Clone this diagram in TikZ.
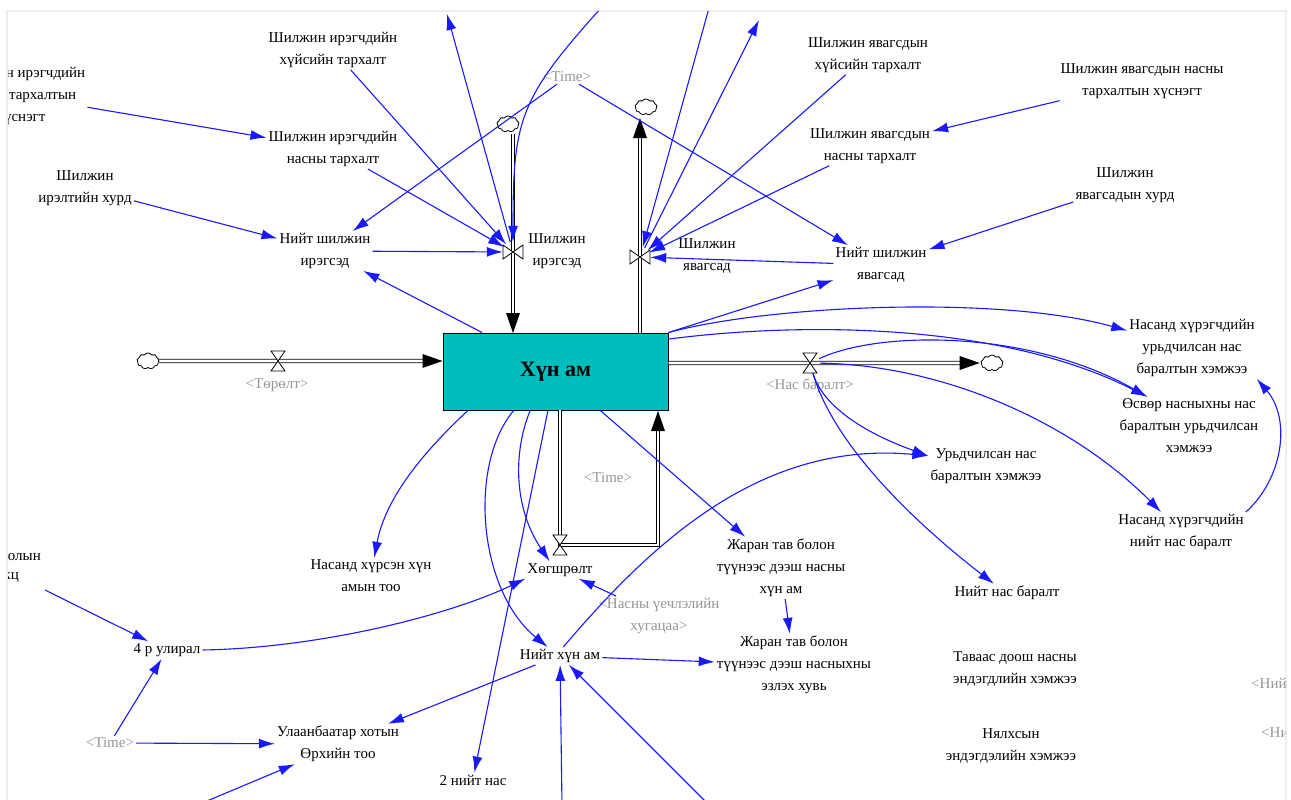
\documentclass[tikz,border=0pt]{standalone}
\usepackage{fontspec}
\setmainfont{Liberation Serif}
\usetikzlibrary{arrows.meta,shapes.symbols,calc}
\definecolor{linkblue}{RGB}{25,25,255}
\definecolor{stockteal}{RGB}{0,190,190}
\definecolor{shadowgray}{RGB}{150,150,150}
\definecolor{framegray}{RGB}{238,238,238}
\tikzset{
  var/.style={align=center, font=\fontsize{15}{22}\selectfont, inner sep=2pt},
  shadowvar/.style={var, text=shadowgray},
  link/.style={draw=linkblue, line width=1.1pt, -{Latex[length=16pt,width=10pt]}},
  pipe/.style={draw=black, double=white, double distance=2.6pt, line width=0.9pt},
  valvept/.style={circle, minimum size=20pt, inner sep=0pt},
  sink/.style={cloud, cloud puffs=9, cloud puff arc=110, aspect=1.3, draw=black,
    fill=white, line width=0.8pt, minimum width=22pt, minimum height=16pt, inner sep=0pt},
  stockbox/.style={draw=black, line width=1pt, fill=stockteal, minimum width=225pt,
    minimum height=77pt, font=\fontsize{22}{26}\selectfont\bfseries},
  hvalve/.pic={\draw[fill=white, line width=0.8pt] (-7,-10) -- (7,-10) -- (0,0) -- cycle
     (-7,10) -- (7,10) -- (0,0) -- cycle;},
  vvalve/.pic={\draw[fill=white, line width=0.8pt] (-10,-7) -- (-10,7) -- (0,0) -- cycle
     (10,-7) -- (10,7) -- (0,0) -- cycle;},
  pipetip/.pic={\fill[black] (0,0) -- (-20,-7) -- (-20,7) -- cycle;},
}
\begin{document}
\begin{tikzpicture}[x=1pt, y=-1pt]
\useasboundingbox (0,0) rectangle (1291,800);
\fill[white] (0,0) rectangle (1291,800);
\draw[framegray, line width=2pt] (7,800) -- (7,11) -- (1286,11) -- (1286,800);
\begin{scope}
\clip (8,12) rectangle (1285,800);

% ---------- stock, sources and sinks ----------
\node[stockbox] (stock) at (555.5,371.5) {Хүн ам};
\node[sink] (sBirth) at (148,361) {};
\node[sink] (sDeath) at (992,363) {};
\node[sink] (sIr) at (508,124) {};
\node[sink] (sYav) at (646,107) {};

% ---------- valves ----------
\node[valvept] (vBirth) at (278,361) {};
\node[valvept] (vDeath) at (810,363) {};
\node[valvept] (vIr) at (513,252) {};
\node[valvept] (vYav) at (640,257) {};
\node[valvept] (vAge) at (560,545) {};

% ---------- pipes ----------
\coordinate (birthTip) at (stock.west |- sBirth);
\coordinate (deathTip) at ($(sDeath.west)+(-1,0)$);
\coordinate (irTip) at (513,333);
\coordinate (yavTip) at (640,118);
\coordinate (ageTip) at (658,411);
\draw[pipe] (sBirth.east) -- ($(birthTip)+(-15,0)$);
\draw[pipe] (stock.east |- sDeath) -- ($(deathTip)+(-15,0)$);
\draw[pipe] (513,134) -- ($(irTip)+(0,-15)$);
\draw[pipe] (640,333) -- ($(yavTip)+(0,15)$);
\draw[pipe] (560,410) -- (560,545) -- (658,545) -- ($(ageTip)+(0,15)$);
\pic at (birthTip) {pipetip};
\pic at (deathTip) {pipetip};
\pic[rotate=-90] at (irTip) {pipetip};
\pic[rotate=90] at (yavTip) {pipetip};
\pic[rotate=90] at (ageTip) {pipetip};
\pic at (vBirth) {hvalve};
\pic at (vDeath) {hvalve};
\pic at (vIr) {vvalve};
\pic at (vYav) {vvalve};
\pic at (vAge) {hvalve};

% ---------- flow labels ----------
\node[var] (lblIr) at (557,251) {Шилжин\\ирэгсэд};
\node[var] (lblYav) at (707,256) {Шилжин\\явагсад};
\node[shadowvar] (lblBirth) at (277,385) {<Төрөлт>};
\node[shadowvar] (lblDeath) at (810,386) {<Нас баралт>};
\node[var] (lblAging) at (560,570) {Хөгшрөлт};

% ---------- auxiliaries ----------
\node[var] (nIrSex) at (333,50) {Шилжин ирэгчдийн\\хүйсийн тархалт};
\node[var] (nIrTable) at (21,96) {Шилжин ирэгчдийн\\насны тархалтын\\хүснэгт};
\node[var] (nIrAge) at (333,149) {Шилжин ирэгчдийн\\насны тархалт};
\node[var] (nIrRate) at (85,188) {Шилжин\\ирэлтийн хурд};
\node[var] (nIrTotal) at (325,251) {Нийт шилжин\\ирэгсэд};
\node[shadowvar] (tTop) at (567,77) {<Time>};
\node[var] (nYavSex) at (868,55) {Шилжин явагсдын\\хүйсийн тархалт};
\node[var] (nYavTable) at (1142,81) {Шилжин явагсдын насны\\тархалтын хүснэгт};
\node[var] (nYavAge) at (870,146) {Шилжин явагсдын\\насны тархалт};
\node[var] (nYavRate) at (1125,185) {Шилжин\\явагсадын хурд};
\node[var] (nYavTotal) at (881,265) {Нийт шилжин\\явагсад};
\node[var] (nAdultPre) at (1192,348) {Насанд хүрэгчдийн\\урьдчилсан нас\\баралтын хэмжээ};
\node[var] (nTeenPre) at (1189,426) {Өсвөр насныхны нас\\баралтын урьдчилсан\\хэмжээ};
\node[var] (nPreDeath) at (986,466) {Урьдчилсан нас\\баралтын хэмжээ};
\node[var] (nAdultDeath) at (1181,532) {Насанд хүрэгчдийн\\нийт нас баралт};
\node[var] (nTotDeath) at (1007,593) {Нийт нас баралт};
\node[var] (nU5) at (1015,669) {Таваас доош насны\\эндэгдлийн хэмжээ};
\node[var] (nInfant) at (1011,746) {Нялхсын\\эндэгдэлийн хэмжээ};
\node[shadowvar, anchor=west] (gR1) at (1249,683) {<Ний};
\node[shadowvar, anchor=west] (gR2) at (1259,733) {<Ни};
\node[shadowvar] (tMid) at (608,478) {<Time>};
\node[var] (n65) at (781,568) {Жаран тав болон\\түүнээс дээш насны\\хүн ам};
\node[var] (n65share) at (794,665) {Жаран тав болон\\түүнээс дээш насныхны\\эзлэх хувь};
\node[var] (nAdults) at (371,576) {Насанд хүрсэн хүн\\амын тоо};
\node[shadowvar] (gAgeP) at (659,616) {<Насны үечлэлийн\\хугацаа>};
\node[var] (nTotPop) at (560,656) {Нийт хүн ам};
\node[var] (nQ4) at (167,650) {4 р улирал};
\node[shadowvar] (tLow) at (110,743) {<Time>};
\node[var] (nUB) at (338,744) {Улаанбаатар хотын\\Өрхийн тоо};
\node[var] (n2) at (473,780) {2 нийт нас};
\node[var, anchor=east] (nLeftA) at (43,557) {олын};
\node[var, anchor=east] (nLeftB) at (21,578) {кц};

% free ends of links running off the sheet
\coordinate (outA) at (447,14);
\coordinate (outB) at (601,8);
\coordinate (outC) at (709,8);
\coordinate (outD) at (759,20);
\coordinate (inLeft) at (45,590);
\coordinate (inBotL) at (195,806);
\coordinate (inBotM) at (562,806);
\coordinate (inBotR) at (710,806);

% ---------- immigration links ----------
\draw[link] (nIrTable) -- (nIrAge);
\draw[link] (nIrRate) -- (nIrTotal);
\draw[link] (nIrSex) -- (vIr);
\draw[link] (nIrAge) -- (vIr);
\draw[link] (nIrTotal) -- (vIr);
\draw[link] (tTop) -- (nIrTotal);
\draw[link] ($(stock.north west)!0.175!(stock.north east)$) -- (nIrTotal);
\draw[link] (vIr) -- (outA);
\draw[link] (outB) to[out=-132,in=90,looseness=1.25] (vIr);

% ---------- emigration links ----------
\draw[link] (nYavSex) -- (vYav);
\draw[link] (nYavAge) -- (vYav);
\draw[link] (nYavTotal) -- (vYav);
\draw[link] (outC) -- (vYav);
\draw[link] (vYav) -- (outD);
\draw[link] (tTop) -- (nYavTotal);
\draw[link] (nYavTable) -- (nYavAge);
\draw[link] (nYavRate) -- (nYavTotal);
\draw[link] (stock.north east) -- (nYavTotal);

% ---------- mortality links ----------
\draw[link] (stock.north east) .. controls (770,305) and (1000,295) .. (nAdultPre.165);
\draw[link] (stock.16) .. controls (800,322) and (1000,322) .. (nTeenPre.145);
\draw[link] (vDeath) .. controls (880,330) and (1030,330) .. (nTeenPre.145);
\draw[link] (vDeath) .. controls (940,365) and (1070,420) .. (nAdultDeath.135);
\draw[link] (vDeath) .. controls (822,405) and (862,432) .. (nPreDeath.170);
\draw[link] (vDeath) .. controls (832,440) and (905,515) .. (nTotDeath.145);
\draw[link] (nAdultDeath.north east) .. controls (1282,480) and (1292,420) .. (nAdultPre.south east);

% ---------- population links ----------
\draw[link] (stock.-41) -- (n65);
\draw[link] (n65) -- (n65share);
\draw[link] (nTotPop) -- (n65share);
\draw[link] (nTotPop.70) .. controls (650,545) and (760,440) .. (nPreDeath.170);
\draw[link] (stock.-156.5) .. controls (420,455) and (385,500) .. (nAdults.80);
\draw[link] (stock.-123.5) .. controls (512,455) and (515,510) .. (lblAging.140);
\draw[link] (stock.-137.8) .. controls (468,465) and (478,590) .. (nTotPop.144);
\draw[link] (stock.-101) -- (n2.80);
\draw[link] (nQ4.east) .. controls (320,648) and (450,615) .. (lblAging.south west);
\draw[link] (inLeft) -- (nQ4.155);
\draw[link] (tLow) -- (nQ4);
\draw[link] (tLow) -- (nUB);
\draw[link] (inBotL) -- (nUB.-155);
\draw[link] (nTotPop.-160) -- (nUB.22);
\draw[link] (gAgeP) -- (lblAging);
\draw[link] (inBotM) -- (nTotPop);
\draw[link] (inBotR) -- (nTotPop);
\end{scope}
\end{tikzpicture}
\end{document}
